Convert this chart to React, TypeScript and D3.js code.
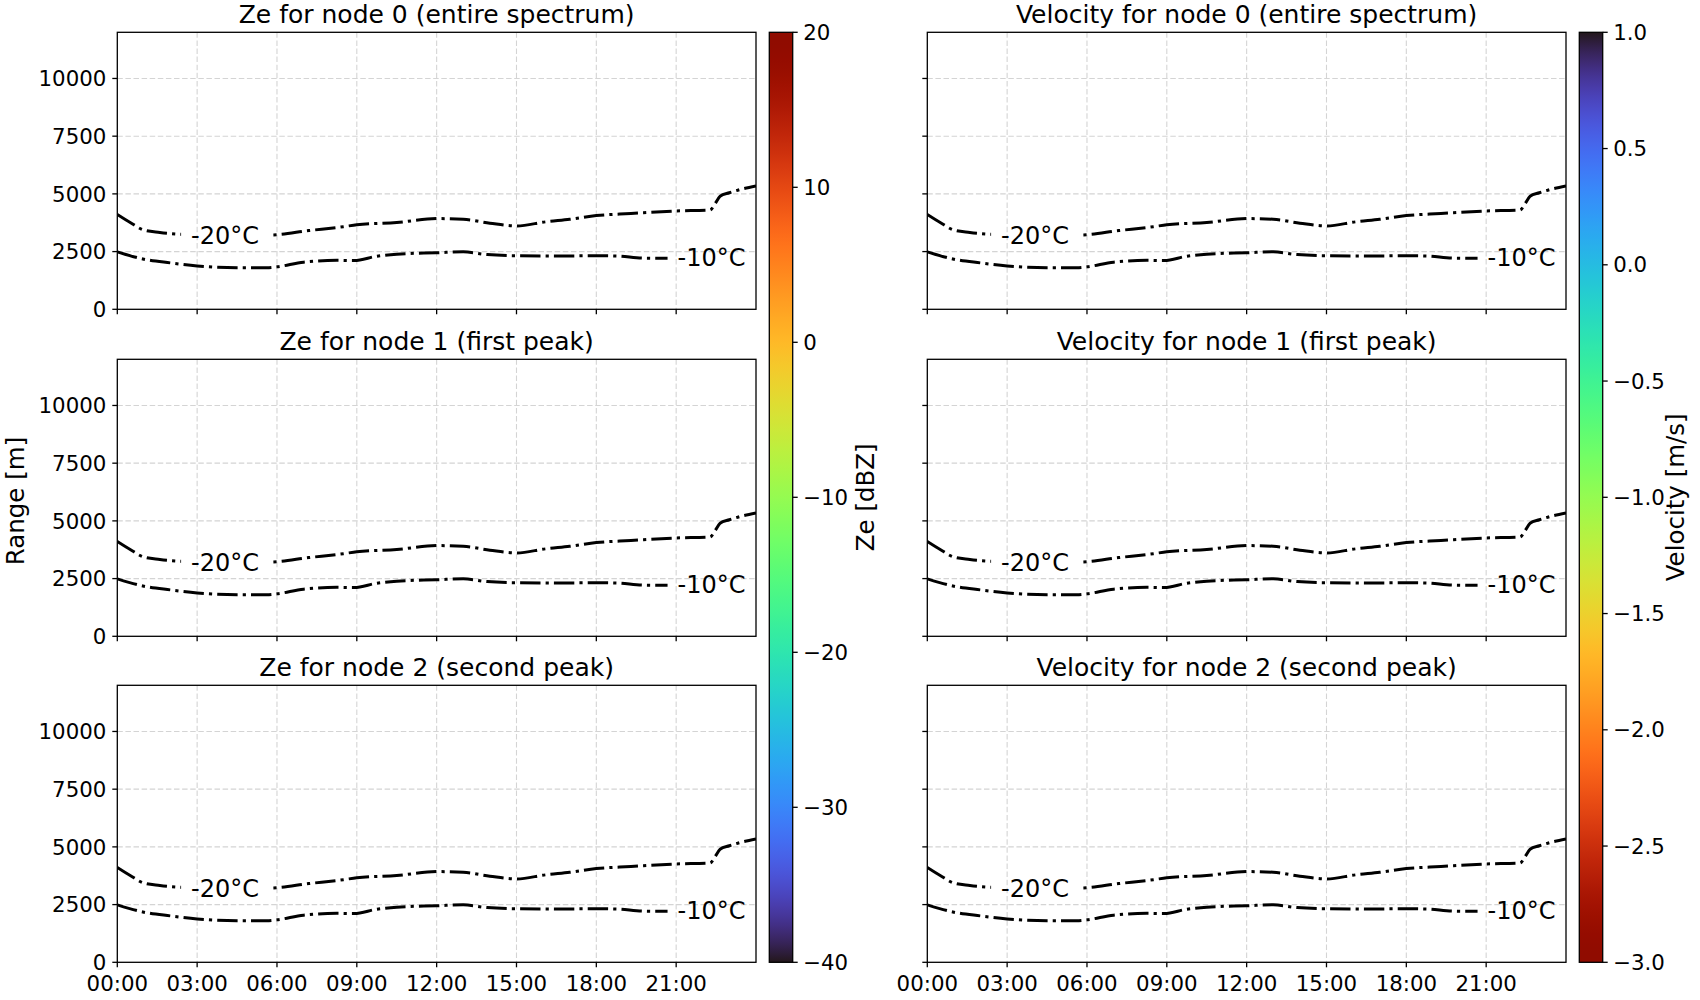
import React from 'react';
import * as d3 from 'd3';

// ---- data ----
const hoursMinus20 = [0, 0.5, 1, 1.6, 2.4, 3.2, 4, 5, 5.8, 7.2, 8.5, 9, 10.5, 12, 13, 14, 15, 16.1, 17, 18, 19.3, 21, 22.27, 22.47, 22.65, 23, 24];
const rangeMinus20 = [4110, 3750, 3430, 3330, 3250, 3220, 3200, 3210, 3220, 3410, 3580, 3660, 3760, 3930, 3900, 3730, 3610, 3790, 3900, 4060, 4150, 4260, 4300, 4590, 4900, 5050, 5340];
const hoursMinus10 = [0, 1, 2, 3, 4.5, 5.7, 6, 7, 8.25, 8.9, 9.75, 10.5, 12, 13, 13.9, 15, 16.75, 18, 18.75, 19.75, 20.6, 21.5, 22.5, 23.5, 24];
const rangeMinus10 = [2490, 2170, 2010, 1880, 1805, 1805, 1840, 2040, 2120, 2110, 2300, 2390, 2450, 2490, 2370, 2320, 2310, 2320, 2310, 2220, 2210, 2230, 2280, 2350, 2390];

const contourTexts = ['-20°C', '-10°C'];
const contourLabelHours = [4.05, 22.33];
const contourLabelRanges = [3200, 2245];

const xTickHours = [0, 3, 6, 9, 12, 15, 18, 21];
const xTickLabels = ['00:00', '03:00', '06:00', '09:00', '12:00', '15:00', '18:00', '21:00'];
const yTicks = [0, 2500, 5000, 7500, 10000];
const zeTicks = [-40, -30, -20, -10, 0, 10, 20];
const velTicks = [-3, -2.5, -2, -1.5, -1, -0.5, 0, 0.5, 1];

const zeTitles = ['Ze for node 0 (entire spectrum)', 'Ze for node 1 (first peak)', 'Ze for node 2 (second peak)'];
const velTitles = ['Velocity for node 0 (entire spectrum)', 'Velocity for node 1 (first peak)', 'Velocity for node 2 (second peak)'];

// ---- layout ----
const FONT = '"DejaVu Sans", sans-serif';
const colX = [117.3, 927.3];
const rowY = [32.3, 359.3, 685.3];
const PW = 638.7;
const PH = 277;
const cbX = [769.3, 1579.3];
const cbW = 23.4;
const cbTop = 32.3;
const cbBottom = 962.3;
const TICK = 5;

const xs = d3.scaleLinear().domain([0, 24]).range([0, PW]);
const ys = d3.scaleLinear().domain([0, 12000]).range([PH, 0]);

const lineGen = (hrs: number[]) =>
  d3
    .line<number>()
    .x((_, i) => xs(hrs[i]))
    .y((d) => ys(d))
    .curve(d3.curveMonotoneX);

const pathMinus20 = lineGen(hoursMinus20)(rangeMinus20) || '';
const pathMinus10 = lineGen(hoursMinus10)(rangeMinus10) || '';

function Panel({ x0, y0, title, id, showY, showX }: { x0: number; y0: number; title: string; id: string; showY: boolean; showX: boolean }) {
  return (
    <g transform={`translate(${x0},${y0})`}>
      <defs>
        <clipPath id={`clip${id}`}>
          <rect x={0} y={0} width={PW} height={PH} />
        </clipPath>
        <mask id={`mask${id}`} maskUnits="userSpaceOnUse" x={-20} y={-20} width={PW + 40} height={PH + 40}>
          <rect x={-20} y={-20} width={PW + 40} height={PH + 40} fill="white" />
          {contourTexts.map((t, i) => (
            <rect
              key={t}
              x={xs(contourLabelHours[i]) - 44}
              y={ys(contourLabelRanges[i]) - 18}
              width={88}
              height={36}
              fill="black"
            />
          ))}
        </mask>
      </defs>
      {/* grid */}
      {xTickHours.slice(1).map((h) => (
        <line key={`gx${h}`} x1={xs(h)} x2={xs(h)} y1={0} y2={PH} stroke="#d4d4d4" strokeWidth={1.1} strokeDasharray="5.5,2.6" />
      ))}
      {yTicks.slice(1).map((v) => (
        <line key={`gy${v}`} x1={0} x2={PW} y1={ys(v)} y2={ys(v)} stroke="#d4d4d4" strokeWidth={1.1} strokeDasharray="5.5,2.6" />
      ))}
      {/* isotherms */}
      <g clipPath={`url(#clip${id})`}>
        <g mask={`url(#mask${id})`}>
          {[pathMinus20, pathMinus10].map((p, i) => (
            <path key={i} d={p} fill="none" stroke="#000" strokeWidth={3} strokeDasharray="20.4,5.1,3.2,5.1" />
          ))}
        </g>
      </g>
      {contourTexts.map((t, i) => (
        <text
          key={t}
          x={xs(contourLabelHours[i])}
          y={ys(contourLabelRanges[i])}
          dy="0.36em"
          textAnchor="middle"
          fontFamily={FONT}
          fontSize={24}
          fill="#000"
        >
          {t}
        </text>
      ))}
      {/* spines */}
      <rect x={0} y={0} width={PW} height={PH} fill="none" stroke="#000" strokeWidth={1.3} />
      {/* y ticks */}
      {yTicks.map((v) => (
        <g key={`ty${v}`}>
          <line x1={-TICK} x2={0} y1={ys(v)} y2={ys(v)} stroke="#000" strokeWidth={1.3} />
          {showY && (
            <text x={-11} y={ys(v)} dy="0.36em" textAnchor="end" fontFamily={FONT} fontSize={21.3} fill="#000">
              {v}
            </text>
          )}
        </g>
      ))}
      {/* x ticks */}
      {xTickHours.map((h, i) => (
        <g key={`tx${h}`}>
          <line x1={xs(h)} x2={xs(h)} y1={PH} y2={PH + TICK} stroke="#000" strokeWidth={1.3} />
          {showX && (
            <text x={xs(h)} y={PH + 28.5} textAnchor="middle" fontFamily={FONT} fontSize={21.3} fill="#000">
              {xTickLabels[i]}
            </text>
          )}
        </g>
      ))}
      <text x={PW / 2} y={-9} textAnchor="middle" fontFamily={FONT} fontSize={25} fill="#000">
        {title}
      </text>
    </g>
  );
}

function Colorbar({ x, id, domain, ticks, fmt, label, reversed }: { x: number; id: string; domain: [number, number]; ticks: number[]; fmt: (v: number) => string; label: string; reversed: boolean }) {
  const sc = d3.scaleLinear().domain(domain).range([cbBottom, cbTop]);
  const color = d3.scaleSequential(d3.interpolateTurbo).domain(reversed ? [domain[1], domain[0]] : domain);
  const offsets = d3.range(0, 1.0001, 0.01);
  return (
    <g>
      <defs>
        <linearGradient id={`grad${id}`} x1="0" y1="0" x2="0" y2="1">
          {offsets.map((o) => (
            <stop key={o} offset={o} stopColor={color(sc.invert(cbTop + o * (cbBottom - cbTop)))} />
          ))}
        </linearGradient>
      </defs>
      <rect x={x} y={cbTop} width={cbW} height={cbBottom - cbTop} fill={`url(#grad${id})`} stroke="#000" strokeWidth={1.3} />
      {ticks.map((t) => (
        <g key={t}>
          <line x1={x + cbW} x2={x + cbW + TICK} y1={sc(t)} y2={sc(t)} stroke="#000" strokeWidth={1.3} />
          <text x={x + cbW + 10.5} y={sc(t)} dy="0.36em" fontFamily={FONT} fontSize={21.3} fill="#000">
            {fmt(t)}
          </text>
        </g>
      ))}
      <text
        transform={`translate(${x + cbW + 73},${(cbTop + cbBottom) / 2}) rotate(-90)`}
        dy="0.35em"
        textAnchor="middle"
        fontFamily={FONT}
        fontSize={24.5}
        fill="#000"
      >
        {label}
      </text>
    </g>
  );
}

export default function App() {
  return (
    <svg width={1700} height={1000} style={{ position: 'absolute', left: 0, top: 0, background: '#fff' }}>
      <rect x={0} y={0} width={1700} height={1000} fill="#fff" />
      {rowY.map((y, r) => (
        <Panel key={`z${r}`} id={`z${r}`} x0={colX[0]} y0={y} title={zeTitles[r]} showY={true} showX={r === 2} />
      ))}
      {rowY.map((y, r) => (
        <Panel key={`v${r}`} id={`v${r}`} x0={colX[1]} y0={y} title={velTitles[r]} showY={false} showX={r === 2} />
      ))}
      <Colorbar x={cbX[0]} id="ze" domain={[-40, 20]} ticks={zeTicks} fmt={d3.format('d')} label="Ze [dBZ]" reversed={false} />
      <Colorbar x={cbX[1]} id="vel" domain={[-3, 1]} ticks={velTicks} fmt={d3.format('.1f')} label="Velocity [m/s]" reversed={true} />
      <text
        transform={`translate(15,501) rotate(-90)`}
        dy="0.35em"
        textAnchor="middle"
        fontFamily={FONT}
        fontSize={24.5}
        fill="#000"
      >
        Range [m]
      </text>
    </svg>
  );
}
